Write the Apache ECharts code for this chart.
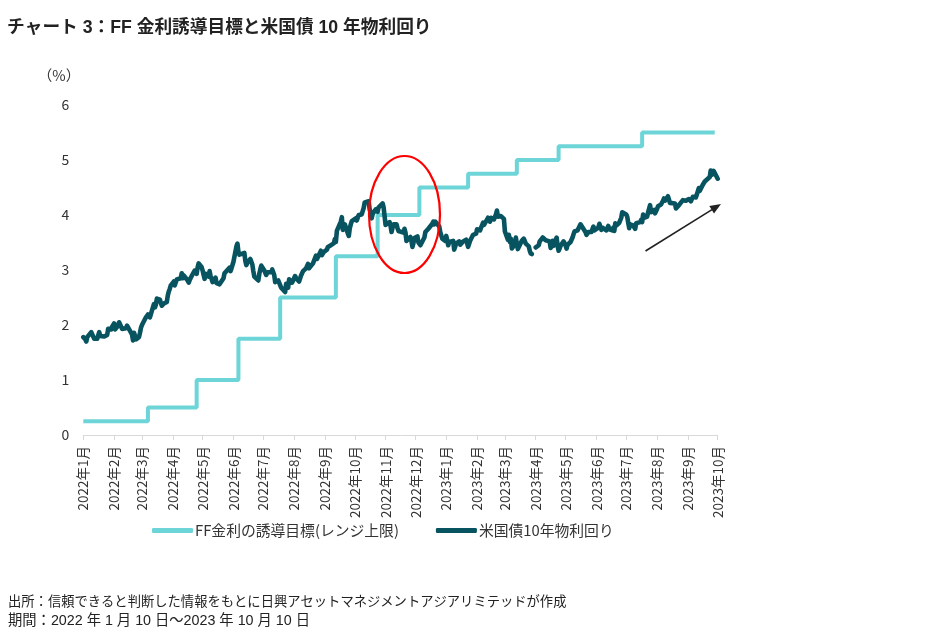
<!DOCTYPE html>
<html>
<head>
<meta charset="utf-8">
<script src="https://cdn.jsdelivr.net/npm/echarts@6/dist/echarts.min.js"></script>
<style>
html,body{margin:0;padding:0;background:#fff;}
#chart{width:930px;height:644px;}
</style>
</head>
<body>
<div id="chart"></div>
<script>
// ---- data ----
const titleText = 'チャート 3：FF 金利誘導目標と米国債 10 年物利回り';
const unitText = '（%）';
const sourceText = '出所：信頼できると判断した情報をもとに日興アセットマネジメントアジアリミテッドが作成';
const periodText = '期間：2022 年 1 月 10 日～2023 年 10 月 10 日';
const seriesNames = ['FF金利の誘導目標(レンジ上限)', '米国債10年物利回り'];
const startDate = '2022-01-10';
const endDate = '2023-10-10';
const yTicks = [0, 1, 2, 3, 4, 5, 6];

// FF rate target upper bound (changes at FOMC decisions)
const ffRate = [
  ['2022-01-10',0.25],['2022-03-16',0.5],['2022-05-04',1.0],['2022-06-15',1.75],
  ['2022-07-27',2.5],['2022-09-21',3.25],['2022-11-02',4.0],['2022-12-14',4.5],
  ['2023-02-01',4.75],['2023-03-22',5.0],['2023-05-03',5.25],['2023-07-26',5.5],
  ['2023-10-07',5.5]
];

// US 10Y yield 2022
const ust2022 = [
['2022-01-10',1.78],['2022-01-11',1.75],['2022-01-12',1.74],['2022-01-13',1.70],['2022-01-14',1.78],['2022-01-18',1.87],['2022-01-19',1.83],['2022-01-20',1.83],['2022-01-21',1.75],['2022-01-24',1.75],['2022-01-25',1.78],['2022-01-26',1.87],['2022-01-27',1.80],['2022-01-28',1.78],['2022-01-31',1.79],
['2022-02-01',1.81],['2022-02-02',1.78],['2022-02-03',1.82],['2022-02-04',1.93],['2022-02-07',1.92],['2022-02-08',1.97],['2022-02-09',1.94],['2022-02-10',2.03],['2022-02-11',1.92],['2022-02-14',1.99],['2022-02-15',2.05],['2022-02-16',2.03],['2022-02-17',1.97],['2022-02-18',1.93],['2022-02-22',1.94],['2022-02-23',1.99],['2022-02-24',1.96],['2022-02-25',1.97],['2022-02-28',1.83],
['2022-03-01',1.72],['2022-03-02',1.86],['2022-03-03',1.87],['2022-03-04',1.74],['2022-03-07',1.78],['2022-03-08',1.86],['2022-03-09',1.95],['2022-03-10',2.00],['2022-03-11',2.00],['2022-03-14',2.14],['2022-03-15',2.16],['2022-03-16',2.19],['2022-03-17',2.20],['2022-03-18',2.14],['2022-03-21',2.32],['2022-03-22',2.38],['2022-03-23',2.32],['2022-03-24',2.37],['2022-03-25',2.48],['2022-03-28',2.46],['2022-03-29',2.40],['2022-03-30',2.35],['2022-03-31',2.32],
['2022-04-01',2.39],['2022-04-04',2.42],['2022-04-05',2.54],['2022-04-06',2.61],['2022-04-07',2.66],['2022-04-08',2.72],['2022-04-11',2.79],['2022-04-12',2.72],['2022-04-13',2.70],['2022-04-14',2.83],['2022-04-18',2.85],['2022-04-19',2.94],['2022-04-20',2.85],['2022-04-21',2.90],['2022-04-22',2.90],['2022-04-25',2.81],['2022-04-26',2.77],['2022-04-27',2.82],['2022-04-28',2.85],['2022-04-29',2.89],
['2022-05-02',2.99],['2022-05-03',2.97],['2022-05-04',2.93],['2022-05-05',3.05],['2022-05-06',3.12],['2022-05-09',3.05],['2022-05-10',2.99],['2022-05-11',2.91],['2022-05-12',2.84],['2022-05-13',2.93],['2022-05-16',2.88],['2022-05-17',2.98],['2022-05-18',2.89],['2022-05-19',2.84],['2022-05-20',2.78],['2022-05-23',2.86],['2022-05-24',2.76],['2022-05-25',2.75],['2022-05-26',2.75],['2022-05-27',2.74],['2022-05-31',2.85],
['2022-06-01',2.94],['2022-06-02',2.91],['2022-06-03',2.96],['2022-06-06',3.04],['2022-06-07',2.98],['2022-06-08',3.03],['2022-06-09',3.04],['2022-06-10',3.15],['2022-06-13',3.43],['2022-06-14',3.48],['2022-06-15',3.33],['2022-06-16',3.28],['2022-06-17',3.25],['2022-06-21',3.31],['2022-06-22',3.16],['2022-06-23',3.09],['2022-06-24',3.13],['2022-06-27',3.20],['2022-06-28',3.20],['2022-06-29',3.10],['2022-06-30',2.98],
['2022-07-01',2.88],['2022-07-05',2.81],['2022-07-06',2.93],['2022-07-07',3.01],['2022-07-08',3.08],['2022-07-11',2.99],['2022-07-12',2.96],['2022-07-13',2.91],['2022-07-14',2.96],['2022-07-15',2.93],['2022-07-18',2.96],['2022-07-19',3.01],['2022-07-20',3.04],['2022-07-21',2.91],['2022-07-22',2.78],['2022-07-25',2.81],['2022-07-26',2.81],['2022-07-27',2.78],['2022-07-28',2.68],['2022-07-29',2.67],
['2022-08-01',2.60],['2022-08-02',2.75],['2022-08-03',2.73],['2022-08-04',2.68],['2022-08-05',2.83],['2022-08-08',2.77],['2022-08-09',2.79],['2022-08-10',2.78],['2022-08-11',2.89],['2022-08-12',2.85],['2022-08-15',2.79],['2022-08-16',2.82],['2022-08-17',2.90],['2022-08-18',2.88],['2022-08-19',2.98],['2022-08-22',3.03],['2022-08-23',3.05],['2022-08-24',3.11],['2022-08-25',3.03],['2022-08-26',3.04],['2022-08-29',3.12],['2022-08-30',3.11],['2022-08-31',3.15],
['2022-09-01',3.26],['2022-09-02',3.20],['2022-09-06',3.35],['2022-09-07',3.27],['2022-09-08',3.30],['2022-09-09',3.33],['2022-09-12',3.37],['2022-09-13',3.42],['2022-09-14',3.41],['2022-09-15',3.45],['2022-09-16',3.45],['2022-09-19',3.49],['2022-09-20',3.56],['2022-09-21',3.51],['2022-09-22',3.71],['2022-09-23',3.69],['2022-09-26',3.88],['2022-09-27',3.96],['2022-09-28',3.73],['2022-09-29',3.76],['2022-09-30',3.83],
['2022-10-03',3.67],['2022-10-04',3.62],['2022-10-05',3.76],['2022-10-06',3.83],['2022-10-07',3.89],['2022-10-11',3.94],['2022-10-12',3.90],['2022-10-13',3.95],['2022-10-14',4.00],['2022-10-17',4.01],['2022-10-18',4.00],['2022-10-19',4.13],['2022-10-20',4.23],['2022-10-21',4.21],['2022-10-24',4.25],['2022-10-25',4.10],['2022-10-26',4.04],['2022-10-27',3.94],['2022-10-28',4.02],['2022-10-31',4.10],
['2022-11-01',4.07],['2022-11-02',4.06],['2022-11-03',4.14],['2022-11-04',4.17],['2022-11-07',4.21],['2022-11-08',4.14],['2022-11-09',4.12],['2022-11-10',3.82],['2022-11-14',3.87],['2022-11-15',3.80],['2022-11-16',3.69],['2022-11-17',3.77],['2022-11-18',3.83],['2022-11-21',3.83],['2022-11-22',3.76],['2022-11-23',3.71],['2022-11-25',3.68],['2022-11-28',3.68],['2022-11-29',3.75],['2022-11-30',3.68],
['2022-12-01',3.53],['2022-12-02',3.50],['2022-12-05',3.60],['2022-12-06',3.53],['2022-12-07',3.42],['2022-12-08',3.49],['2022-12-09',3.58],['2022-12-12',3.61],['2022-12-13',3.50],['2022-12-14',3.48],['2022-12-15',3.45],['2022-12-16',3.48],['2022-12-19',3.59],['2022-12-20',3.69],['2022-12-21',3.68],['2022-12-22',3.67],['2022-12-23',3.75],['2022-12-27',3.84],['2022-12-28',3.88],['2022-12-29',3.83],['2022-12-30',3.88]
];

// US 10Y yield 2023
const ust2023 = [
['2023-01-03',3.79],['2023-01-04',3.69],['2023-01-05',3.72],['2023-01-06',3.57],['2023-01-09',3.53],['2023-01-10',3.62],['2023-01-11',3.54],['2023-01-12',3.45],['2023-01-13',3.51],['2023-01-17',3.53],['2023-01-18',3.37],['2023-01-19',3.39],['2023-01-20',3.48],['2023-01-23',3.52],['2023-01-24',3.46],['2023-01-25',3.46],['2023-01-26',3.49],['2023-01-27',3.52],['2023-01-30',3.55],['2023-01-31',3.52],
['2023-02-01',3.42],['2023-02-02',3.40],['2023-02-03',3.53],['2023-02-06',3.64],['2023-02-07',3.67],['2023-02-08',3.63],['2023-02-09',3.66],['2023-02-10',3.74],['2023-02-13',3.72],['2023-02-14',3.77],['2023-02-15',3.81],['2023-02-16',3.86],['2023-02-17',3.82],['2023-02-21',3.95],['2023-02-22',3.92],['2023-02-23',3.88],['2023-02-24',3.95],['2023-02-27',3.92],['2023-02-28',3.92],
['2023-03-01',4.01],['2023-03-02',4.08],['2023-03-03',3.97],['2023-03-06',3.98],['2023-03-07',3.97],['2023-03-08',3.99],['2023-03-09',3.93],['2023-03-10',3.70],['2023-03-13',3.55],['2023-03-14',3.64],['2023-03-15',3.51],['2023-03-16',3.57],['2023-03-17',3.39],['2023-03-20',3.47],['2023-03-21',3.59],['2023-03-22',3.48],['2023-03-23',3.38],['2023-03-24',3.38],['2023-03-27',3.53],['2023-03-28',3.55],['2023-03-29',3.57],['2023-03-30',3.55],['2023-03-31',3.48],
['2023-04-03',3.43],['2023-04-04',3.35],['2023-04-05',3.30],['2023-04-06',3.29],['2023-04-07','-'],['2023-04-10',3.41],['2023-04-11',3.43],['2023-04-12',3.41],['2023-04-13',3.45],['2023-04-14',3.52],['2023-04-17',3.59],['2023-04-18',3.58],['2023-04-19',3.60],['2023-04-20',3.54],['2023-04-21',3.57],['2023-04-24',3.52],['2023-04-25',3.40],['2023-04-26',3.45],['2023-04-27',3.53],['2023-04-28',3.44],
['2023-05-01',3.59],['2023-05-02',3.44],['2023-05-03',3.35],['2023-05-04',3.39],['2023-05-05',3.44],['2023-05-08',3.52],['2023-05-09',3.52],['2023-05-10',3.45],['2023-05-11',3.39],['2023-05-12',3.46],['2023-05-15',3.51],['2023-05-16',3.54],['2023-05-17',3.59],['2023-05-18',3.65],['2023-05-19',3.70],['2023-05-22',3.72],['2023-05-23',3.70],['2023-05-24',3.72],['2023-05-25',3.83],['2023-05-26',3.80],['2023-05-30',3.69],['2023-05-31',3.64],
['2023-06-01',3.61],['2023-06-02',3.69],['2023-06-05',3.69],['2023-06-06',3.70],['2023-06-07',3.79],['2023-06-08',3.72],['2023-06-09',3.75],['2023-06-12',3.77],['2023-06-13',3.84],['2023-06-14',3.83],['2023-06-15',3.73],['2023-06-16',3.77],['2023-06-20',3.72],['2023-06-21',3.73],['2023-06-22',3.80],['2023-06-23',3.74],['2023-06-26',3.72],['2023-06-27',3.77],['2023-06-28',3.71],['2023-06-29',3.85],['2023-06-30',3.81],
['2023-07-03',3.86],['2023-07-05',3.95],['2023-07-06',4.05],['2023-07-07',4.06],['2023-07-10',4.01],['2023-07-11',3.97],['2023-07-12',3.86],['2023-07-13',3.76],['2023-07-14',3.83],['2023-07-17',3.81],['2023-07-18',3.80],['2023-07-19',3.75],['2023-07-20',3.85],['2023-07-21',3.84],['2023-07-24',3.87],['2023-07-25',3.91],['2023-07-26',3.87],['2023-07-27',4.01],['2023-07-28',3.95],['2023-07-31',3.97],
['2023-08-01',4.05],['2023-08-02',4.08],['2023-08-03',4.18],['2023-08-04',4.05],['2023-08-07',4.09],['2023-08-08',4.03],['2023-08-09',4.01],['2023-08-10',4.11],['2023-08-11',4.16],['2023-08-14',4.19],['2023-08-15',4.22],['2023-08-16',4.26],['2023-08-17',4.30],['2023-08-18',4.26],['2023-08-21',4.34],['2023-08-22',4.33],['2023-08-23',4.22],['2023-08-24',4.24],['2023-08-25',4.25],['2023-08-28',4.21],['2023-08-29',4.12],['2023-08-30',4.12],['2023-08-31',4.09],
['2023-09-01',4.18],['2023-09-05',4.27],['2023-09-06',4.30],['2023-09-07',4.27],['2023-09-08',4.26],['2023-09-11',4.29],['2023-09-12',4.29],['2023-09-13',4.25],['2023-09-14',4.29],['2023-09-15',4.33],['2023-09-18',4.32],['2023-09-19',4.37],['2023-09-20',4.35],['2023-09-21',4.49],['2023-09-22',4.44],['2023-09-25',4.55],['2023-09-26',4.56],['2023-09-27',4.61],['2023-09-28',4.59],['2023-09-29',4.59],
['2023-10-02',4.69],['2023-10-03',4.81],['2023-10-04',4.73],['2023-10-05',4.72],['2023-10-06',4.80],['2023-10-10',4.66]
];

// ---- axis categories: every calendar day in the period ----
function buildDays(s, e) {
  const out = [];
  let t = Date.UTC(+s.slice(0,4), +s.slice(5,7)-1, +s.slice(8,10));
  const end = Date.UTC(+e.slice(0,4), +e.slice(5,7)-1, +e.slice(8,10));
  while (t <= end) {
    const d = new Date(t);
    out.push(d.getUTCFullYear() + '-' + String(d.getUTCMonth()+1).padStart(2,'0') + '-' + String(d.getUTCDate()).padStart(2,'0'));
    t += 86400000;
  }
  return out;
}
const days = buildDays(startDate, endDate);
const isMonthTick = (i, v) => v.slice(8) === '10';

const FONT = '"Noto Sans CJK JP", "Noto Sans", sans-serif';
const FONT_MIX = '"Liberation Sans", "Noto Sans CJK JP", sans-serif';
const chart = echarts.init(document.getElementById('chart'), null, {renderer: 'canvas'});

const option = {
  backgroundColor: '#ffffff',
  animation: false,
  textStyle: {fontFamily: FONT},
  grid: {left: 83.3, right: 212.3, top: 105, bottom: 209, containLabel: false},
  legend: {
    left: 147, top: 518,
    itemWidth: 41, itemHeight: 5, itemGap: 37,
    icon: 'roundRect',
    textStyle: {fontFamily: FONT, fontSize: 14.8, color: '#333333', padding: [0, 0, 0, -3]},
    data: seriesNames
  },
  xAxis: {
    type: 'category',
    data: days,
    boundaryGap: false,
    axisLine: {show: true, lineStyle: {color: '#d9d9d9', width: 1}},
    axisTick: {show: true, interval: isMonthTick, length: 5, lineStyle: {color: '#d9d9d9'}},
    axisLabel: {
      show: true, interval: isMonthTick, rotate: 90, margin: 11,
      fontFamily: FONT, fontSize: 13.5, color: '#333333',
      formatter: v => v.slice(0,4) + '年' + parseInt(v.slice(5,7), 10) + '月'
    },
    splitLine: {show: false}
  },
  yAxis: {
    type: 'value',
    min: yTicks[0], max: yTicks[yTicks.length-1], interval: 1,
    axisLine: {show: false},
    axisTick: {show: false},
    splitLine: {show: false},
    axisLabel: {margin: 14, fontFamily: FONT, fontSize: 14, color: '#333333'}
  },
  series: [
    {
      name: seriesNames[0], type: 'line', step: 'end',
      data: ffRate, symbol: 'none',
      lineStyle: {color: '#6dd5d8', width: 4},
      itemStyle: {color: '#6dd5d8'}
    },
    {
      name: seriesNames[1], type: 'line',
      data: ust2022.concat(ust2023), symbol: 'none', connectNulls: false,
      lineStyle: {color: '#07535f', width: 4.6, join: 'round', cap: 'round'},
      itemStyle: {color: '#07535f'}
    }
  ],
  graphic: [
    {type: 'text', left: 7, top: 19, style: {text: titleText, font: 'bold 17.7px ' + FONT_MIX, fill: '#222222'}},
    {type: 'text', x: 59, y: 75, style: {text: unitText, font: '14.5px ' + FONT, fill: '#333333', align: 'center', verticalAlign: 'middle'}},
    {type: 'text', left: 8, top: 596, style: {text: sourceText, font: '13.3px ' + FONT_MIX, fill: '#222222'}},
    {type: 'text', left: 8, top: 614, style: {text: periodText, font: '14.3px ' + FONT_MIX, fill: '#222222'}},
    {type: 'ellipse', shape: {cx: 404.5, cy: 214.5, rx: 35.5, ry: 58.5}, style: {fill: 'none', stroke: '#ff0000', lineWidth: 2.2}, z: 100},
    {type: 'line', shape: {x1: 645.5, y1: 251, x2: 712, y2: 209.6}, style: {stroke: '#222222', lineWidth: 1.6}, z: 100},
    {type: 'polygon', shape: {points: [[721, 204], [714.0, 213.6], [709.3, 206.0]]}, style: {fill: '#222222'}, z: 100}
  ]
};
chart.setOption(option);
</script>
</body>
</html>
